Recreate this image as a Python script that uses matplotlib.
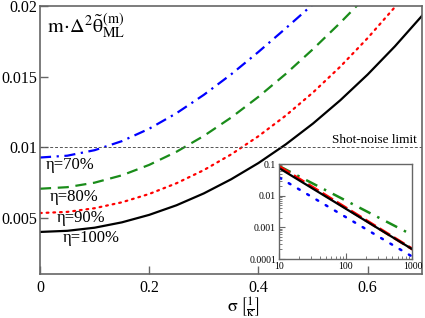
import matplotlib
matplotlib.use("Agg")
import matplotlib.pyplot as plt
from matplotlib.ticker import FixedLocator, FixedFormatter, LogLocator, NullFormatter

plt.rcParams['font.family'] = ['Liberation Serif', 'DejaVu Serif']
plt.rcParams['mathtext.fontset'] = 'stix'

# ---------------- data ----------------
sigma = [0.0, 0.05, 0.1, 0.15, 0.2, 0.25, 0.3, 0.35, 0.4, 0.45, 0.5, 0.55, 0.6, 0.65, 0.7]
eta100 = [0.00400, 0.00408, 0.00430, 0.00468, 0.00521, 0.00589, 0.00673, 0.00773,
          0.00888, 0.01020, 0.01168, 0.01333, 0.01515, 0.01715, 0.01933]
eta90 = [0.00534, 0.00542, 0.00568, 0.00610, 0.00669, 0.00745, 0.00838, 0.00949,
         0.01078, 0.01224, 0.01388, 0.01571, 0.01773, 0.01993, 0.02234]
eta80 = [0.00706, 0.00717, 0.00749, 0.00801, 0.00875, 0.00968, 0.01080, 0.01210,
         0.01357, 0.01519, 0.01695, 0.01882, 0.02080, 0.02285, 0.02496]
eta70 = [0.00927, 0.00940, 0.00979, 0.01043, 0.01131, 0.01241, 0.01371, 0.01516,
         0.01675, 0.01842, 0.02013, 0.02183]
labels = ["η=100%", "η=90%", "η=80%", "η=70%"]
label_pos = [(0.042, 0.00357), (0.030, 0.00500), (0.018, 0.00651), (0.011, 0.00876)]
shot_noise = 0.01

# inset (log-log)
m_inset = [10, 1000]
inset_black = [0.073, 0.000202]
inset_red = [0.082, 0.000205]
inset_green = [0.085, 0.00057]
inset_blue = [0.037, 0.000118]

# ---------------- figure ----------------
fig = plt.figure(figsize=(4.25, 3.18), dpi=100)
ax = fig.add_axes([0.0941, 0.1374, 0.8995, 0.8437])
spine_c = '#666666'

ax.plot(sigma, eta100, color='black', lw=1.6, ls='-')
ax.plot(sigma, eta90, color='red', lw=1.6, ls=(0, (0.8, 2.2)), dash_capstyle='round')
ax.plot(sigma, eta80, color='#1a8c1a', lw=1.6, ls=(0, (5, 3)))
ax.plot(sigma[:len(eta70)], eta70, color='blue', lw=1.6, ls=(0, (5, 2.5, 1, 2.5)))
ax.axhline(shot_noise, color='#555555', lw=0.7, ls=(0, (3, 2)))
ax.text(0.69, shot_noise + 0.0001, "Shot-noise limit", ha='right', va='bottom', fontsize=9.5)

for (x, y), lab in zip(label_pos, labels):
    ax.text(x, y, lab, ha='left', va='center', fontsize=12)

ax.text(0.012, 0.0196, r"$\mathrm{m\!\cdot\!\Delta^2\tilde{\theta}^{(m)}_{ML}}$", ha='left', va='top',
        fontsize=14.5)

ax.set_xlim(0, 0.7)
ax.set_ylim(0.001, 0.02)
ax.xaxis.set_major_locator(FixedLocator([0, 0.2, 0.4, 0.6]))
ax.xaxis.set_major_formatter(FixedFormatter(["0", "0.2", "0.4", "0.6"]))
ax.yaxis.set_major_locator(FixedLocator([0.005, 0.01, 0.015, 0.02]))
ax.yaxis.set_major_formatter(FixedFormatter(["0.005", "0.01", "0.015", "0.02"]))
ax.tick_params(direction='in', length=6, width=1, color=spine_c, labelsize=11.5,
               top=False, right=False)
ax.tick_params(axis='x', pad=4)
ax.tick_params(axis='y', pad=2)
for s in ax.spines.values():
    s.set_color(spine_c)
    s.set_linewidth(1.2)
fig.text(243 / 425, 1 - 307.5 / 318, r"$\mathrm{\sigma}\;\left[\frac{1}{\mathrm{\kappa}}\right]$",
         ha='center', va='center', fontsize=13)

# ---------------- inset ----------------
ins = fig.add_axes([0.6576, 0.1855, 0.3129, 0.2987])
ins.plot(m_inset, inset_green, color='#1a8c1a', lw=1.8, ls=(0, (5, 3, 1, 3)))
ins.plot(m_inset, inset_blue, color='blue', lw=1.8, ls=(0, (0.8, 3.5)), dash_capstyle='round')
ins.plot(m_inset, inset_red, color='red', lw=2.2, ls=(0, (4, 1.5)))
ins.plot(m_inset, inset_black, color='black', lw=1.6, ls='-')
ins.set_xscale('log')
ins.set_yscale('log')
ins.set_xlim(10, 1000)
ins.set_ylim(1e-4, 1e-1)
ins.xaxis.set_major_locator(FixedLocator([10, 100, 1000]))
ins.xaxis.set_major_formatter(FixedFormatter(["10", "100", "1000"]))
ins.yaxis.set_major_locator(FixedLocator([1e-4, 1e-3, 1e-2, 1e-1]))
ins.yaxis.set_major_formatter(FixedFormatter(["0.0001", "0.001", "0.01", "0.1"]))
ins.xaxis.set_minor_locator(LogLocator(base=10, subs=range(2, 10)))
ins.yaxis.set_minor_locator(LogLocator(base=10, subs=range(2, 10)))
ins.xaxis.set_minor_formatter(NullFormatter())
ins.yaxis.set_minor_formatter(NullFormatter())
ins.tick_params(which='major', direction='in', length=4, width=0.8, color=spine_c,
                labelsize=7, top=False, right=False)
ins.tick_params(axis='x', which='major', pad=2.5)
ins.tick_params(axis='y', which='major', pad=2.5)
ins.tick_params(which='minor', direction='in', length=2, width=0.6, color=spine_c,
                top=False, right=False)
for s in ins.spines.values():
    s.set_color(spine_c)
    s.set_linewidth(1.0)

fig.savefig("out.png", dpi=100)
